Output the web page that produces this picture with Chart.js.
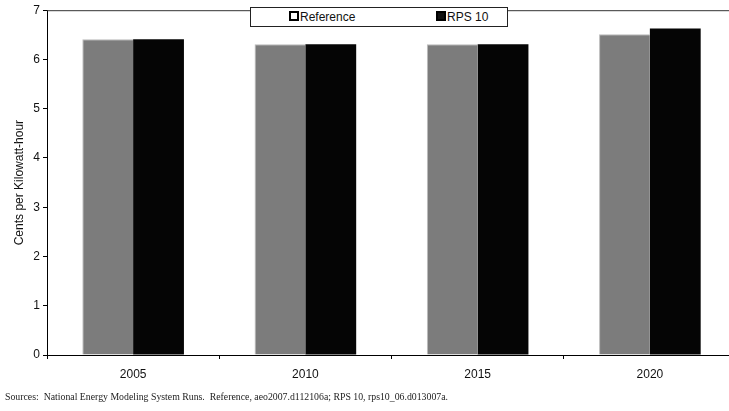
<!DOCTYPE html>
<html>
<head>
<meta charset="utf-8">
<script src="https://cdn.jsdelivr.net/npm/chart.js@4.4.1/dist/chart.umd.min.js"></script>
<style>
  html, body { margin: 0; padding: 0; background: #fff; overflow: hidden; width: 729px; height: 411px; }
  #wrap { position: absolute; left: 0; top: 0; width: 736px; height: 411px; }
  #legend { position: absolute; left: 250px; top: 7px; width: 256px; height: 18px; border: 1px solid #222; background: #fff;
            font-family: "Liberation Sans", Arial, sans-serif; font-size: 12px; color: #111; }
  .item { position: absolute; top: 2px; line-height: 14px; white-space: nowrap; }
  .sw { display: inline-block; width: 6px; height: 6px; border: 2px solid #000; vertical-align: 0px; margin-right: 1px; }
  #source { position: absolute; left: 5px; top: 391px; font-family: "Liberation Serif", "Times New Roman", serif; font-size: 9.8px; color: #222; white-space: nowrap; }
</style>
</head>
<body>
<div id="wrap"><canvas id="c" width="736" height="411"></canvas></div>
<div id="legend"></div>
<div id="source">Sources:&nbsp; National Energy Modeling System Runs.&nbsp; Reference, aeo2007.d112106a; RPS 10, rps10_06.d013007a.</div>
<script>
const categories = ["2005", "2010", "2015", "2020"];
const seriesNames = ["Reference", "RPS 10"];
const referenceValues = [6.41, 6.31, 6.31, 6.51];
const rps10Values = [6.41, 6.31, 6.31, 6.63];
const yTicks = [0, 1, 2, 3, 4, 5, 6, 7];

const colors = ["#7c7c7c", "#050505"];
const swatches = ["#ffffff", "#111111"];

// HTML legend
const legend = document.getElementById('legend');
const legendLeft = [38, 185];
seriesNames.forEach((n, i) => {
  const d = document.createElement('div');
  d.className = 'item';
  d.style.left = legendLeft[i] + 'px';
  d.innerHTML = '<span class="sw" style="background:' + swatches[i] + '"></span>' + n;
  legend.appendChild(d);
});

const frame = {
  id: 'frame',
  afterDraw(chart) {
    const { ctx, chartArea } = chart;
    ctx.save();
    ctx.strokeStyle = '#333';
    ctx.lineWidth = 1;
    ctx.beginPath();
    ctx.moveTo(chartArea.left, chartArea.top + 0.5);
    ctx.lineTo(chartArea.right, chartArea.top + 0.5);
    ctx.stroke();
    ctx.restore();
  }
};

new Chart(document.getElementById('c'), {
  type: 'bar',
  data: {
    labels: categories,
    datasets: [
      { label: seriesNames[0], data: referenceValues, backgroundColor: colors[0], borderColor: '#bbbbbb', borderWidth: {top: 1, left: 1, right: 0, bottom: 0} },
      { label: seriesNames[1], data: rps10Values, backgroundColor: colors[1], borderWidth: 0 }
    ]
  },
  options: {
    responsive: false,
    animation: false,
    events: [],
    layout: { padding: { left: 10, top: 9, right: 0, bottom: 0 } },
    plugins: { legend: { display: false }, tooltip: { enabled: false } },
    datasets: { bar: { categoryPercentage: 0.59, barPercentage: 1.0 } },
    scales: {
      x: {
        grid: { display: true, offset: true, drawOnChartArea: false, drawTicks: true, tickLength: 4, color: '#000' },
        border: { display: true, color: '#000', width: 1 },
        ticks: { color: '#111', font: { family: 'Liberation Sans', size: 12 }, padding: 8, maxRotation: 0 },
        afterFit(s) { s.height = 56; }
      },
      y: {
        min: 0, max: 7,
        afterBuildTicks(s) { s.ticks = yTicks.map(v => ({ value: v })); },
        grid: { display: true, drawOnChartArea: false, drawTicks: true, tickLength: 4, color: '#000' },
        border: { display: true, color: '#000', width: 1 },
        ticks: { color: '#111', font: { family: 'Liberation Sans', size: 12 }, padding: 3 },
        title: { display: true, text: 'Cents per Kilowatt-hour', color: '#111', font: { family: 'Liberation Sans', size: 12 }, padding: 2 },
        afterFit(s) { s.width = 37; }
      }
    }
  },
  plugins: [frame]
});
</script>
</body>
</html>
